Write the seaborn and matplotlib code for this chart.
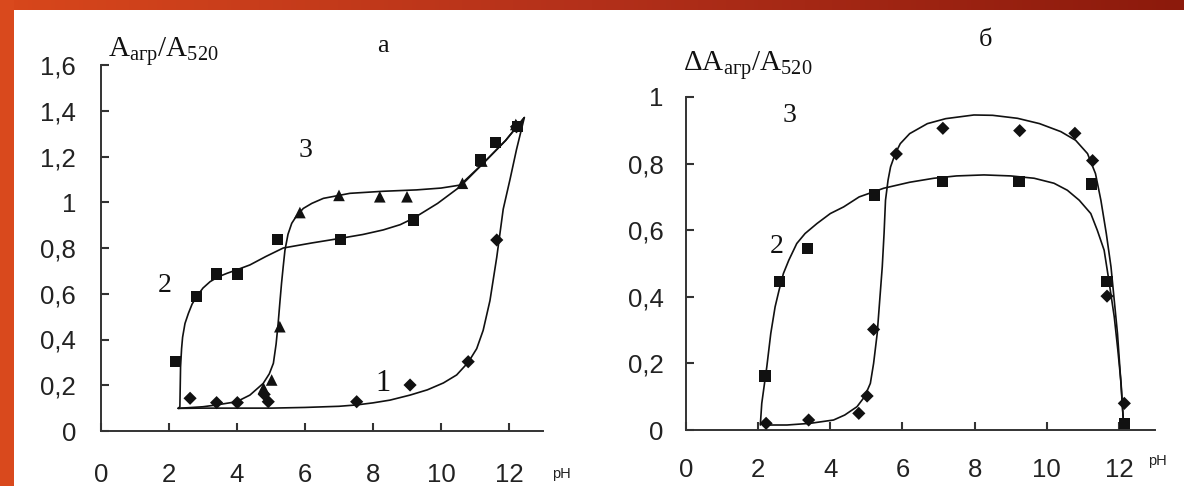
import numpy as np
import matplotlib.pyplot as plt
import seaborn as sns
from matplotlib.colors import LinearSegmentedColormap
from matplotlib.patches import Rectangle

sns.set_style("ticks")
plt.rcParams['font.family'] = ['Liberation Sans', 'DejaVu Sans']
plt.rcParams['xtick.direction'] = 'in'
plt.rcParams['ytick.direction'] = 'in'

# ---- panel a: measured points ----
a1_x = [2.62, 3.40, 4.01, 4.80, 4.92, 7.52, 9.09, 10.80, 11.64, 12.22]
a1_y = [0.143, 0.124, 0.124, 0.16, 0.128, 0.128, 0.201, 0.303, 0.835, 1.33]
a2_x = [2.18, 2.81, 3.40, 4.01, 5.20, 7.05, 9.19, 11.15, 11.60, 12.24]
a2_y = [0.303, 0.587, 0.686, 0.686, 0.838, 0.838, 0.922, 1.185, 1.26, 1.33]
a3_x = [4.78, 5.02, 5.26, 5.85, 7.00, 8.20, 9.00, 10.63, 11.20, 12.20]
a3_y = [0.187, 0.223, 0.456, 0.955, 1.03, 1.024, 1.024, 1.083, 1.18, 1.34]

# ---- panel a: fitted curves ----
a1_cx = [2.27, 3.0, 4.0, 5.0, 6.0, 7.0, 7.52, 8.0, 8.5, 9.09, 9.6, 10.07, 10.46, 10.8,
         11.05, 11.24, 11.44, 11.64, 11.83, 12.03, 12.22, 12.45]
a1_cy = [0.099, 0.10, 0.10, 0.10, 0.103, 0.108, 0.114, 0.123, 0.135, 0.157, 0.18, 0.21, 0.245, 0.30,
         0.36, 0.44, 0.57, 0.76, 0.97, 1.10, 1.23, 1.37]
a2_cx = [2.27, 2.32, 2.34, 2.37, 2.40, 2.47, 2.57, 2.68, 2.81, 3.0, 3.21, 3.45, 3.70, 4.0,
         4.38, 4.85, 5.36, 6.2, 7.03, 7.7, 8.30, 8.8, 9.19, 9.9, 10.56, 11.24, 11.9, 12.45]
a2_cy = [0.099, 0.106, 0.281, 0.36, 0.41, 0.47, 0.514, 0.555, 0.587, 0.625, 0.653, 0.674, 0.689, 0.705,
         0.726, 0.763, 0.80, 0.822, 0.842, 0.859, 0.879, 0.902, 0.93, 0.995, 1.068, 1.17, 1.27, 1.37]
a3_cx = [2.27, 3.0, 3.40, 3.99, 4.38, 4.77, 4.95, 5.07, 5.15, 5.21, 5.26, 5.31, 5.36, 5.41,
         5.5, 5.61, 5.75, 5.95, 6.2, 6.54, 7.32, 8.3, 9.28, 10.0, 10.56, 11.24, 11.9, 12.45]
a3_cy = [0.099, 0.106, 0.114, 0.128, 0.157, 0.208, 0.25, 0.296, 0.38, 0.47, 0.56, 0.646, 0.72, 0.79,
         0.86, 0.908, 0.94, 0.973, 0.995, 1.017, 1.039, 1.048, 1.054, 1.062, 1.075, 1.17, 1.27, 1.37]

# ---- panel b: measured points ----
b2_x = [2.19, 2.59, 3.37, 5.22, 7.12, 9.23, 11.24, 11.67, 12.15]
b2_y = [0.162, 0.445, 0.546, 0.706, 0.746, 0.746, 0.739, 0.445, 0.02]
b3_x = [2.22, 3.40, 4.79, 5.02, 5.20, 5.83, 7.12, 9.25, 10.78, 11.27, 11.67, 12.15]
b3_y = [0.02, 0.03, 0.05, 0.102, 0.302, 0.829, 0.906, 0.899, 0.891, 0.809, 0.402, 0.08]

# ---- panel b: fitted curves ----
b2_cx = [2.06, 2.10, 2.24, 2.35, 2.47, 2.58, 2.70, 2.85, 3.07, 3.3, 3.63, 4.0, 4.37, 4.8,
         5.48, 6.2, 6.87, 7.5, 8.26, 9.0, 9.65, 10.2, 10.57, 10.9, 11.22, 11.4, 11.59,
         11.72, 11.87, 11.97, 12.06, 12.13]
b2_cy = [0.015, 0.08, 0.19, 0.29, 0.37, 0.42, 0.47, 0.51, 0.56, 0.59, 0.62, 0.65, 0.67, 0.70,
         0.726, 0.744, 0.756, 0.763, 0.766, 0.763, 0.756, 0.741, 0.72, 0.69, 0.65, 0.60, 0.54,
         0.45, 0.34, 0.24, 0.14, 0.015]
b3_cx = [2.15, 2.8, 3.44, 4.09, 4.4, 4.74, 4.95, 5.11, 5.2, 5.30, 5.37, 5.44, 5.49, 5.53,
         5.6, 5.67, 5.8, 5.94, 6.2, 6.69, 7.2, 7.98, 8.5, 9.19, 9.8, 10.39, 10.8, 11.13,
         11.35, 11.50, 11.65, 11.78, 11.87, 11.96, 12.05, 12.13]
b3_cy = [0.015, 0.015, 0.02, 0.03, 0.045, 0.07, 0.10, 0.14, 0.2, 0.29, 0.39, 0.49, 0.59, 0.69,
         0.75, 0.79, 0.83, 0.86, 0.89, 0.92, 0.935, 0.946, 0.945, 0.936, 0.92, 0.896, 0.87, 0.83,
         0.77, 0.69, 0.59, 0.49, 0.39, 0.29, 0.15, 0.015]

x_ticks = [0, 2, 4, 6, 8, 10, 12]
a_yticks = [0, 0.2, 0.4, 0.6, 0.8, 1.0, 1.2, 1.4, 1.6]
a_ylabels = ["0", "0,2", "0,4", "0,6", "0,8", "1", "1,2", "1,4", "1,6"]
b_yticks = [0, 0.2, 0.4, 0.6, 0.8, 1.0]
b_ylabels = ["0", "0,2", "0,4", "0,6", "0,8", "1"]

W, H = 1184, 486
fig = plt.figure(figsize=(W / 100, H / 100), dpi=100)
fig.patch.set_facecolor("white")

# slide background strips
bg = fig.add_axes([0, 0, 1, 1], zorder=-5)
grad = np.linspace(0, 1, 256).reshape(1, -1)
cmap = LinearSegmentedColormap.from_list("strip", ["#d8471c", "#b3301a", "#8c1a0c"])
bg.imshow(grad, extent=(0, W, 10, 0), cmap=cmap, aspect="auto")
bg.add_patch(Rectangle((0, 0), 14, H, color="#d9491d", lw=0))
bg.set_xlim(0, W)
bg.set_ylim(H, 0)
bg.axis("off")

ink = "#111111"
serif = ["Liberation Serif", "DejaVu Serif"]


def px(x, y):
    return x / W, 1 - y / H


def style_axes(ax, ylim, yticks, ylabels, xpad, ypad):
    ax.set_xlim(0, 13)
    ax.set_ylim(*ylim)
    ax.set_xticks(x_ticks)
    ax.set_xticklabels([str(t) for t in x_ticks])
    ax.set_yticks(yticks)
    ax.set_yticklabels(ylabels)
    sns.despine(ax=ax)
    for s in ["left", "bottom"]:
        ax.spines[s].set_linewidth(1.4)
        ax.spines[s].set_color("#333333")
    ax.tick_params(axis="both", which="major", direction="in", length=6, width=1.5,
                   bottom=True, left=True, top=False, right=False,
                   color="#333333", labelcolor="#222222", labelsize=18.5)
    ax.tick_params(axis="x", pad=xpad)
    ax.tick_params(axis="y", pad=ypad)
    ax.set_xlabel("")
    ax.set_ylabel("")
    ax.set_facecolor("none")


def curve(ax, xs, ys):
    sns.lineplot(x=xs, y=ys, ax=ax, sort=False, estimator=None,
                 color=ink, linewidth=1.2, clip_on=False)


def points(ax, xs, ys, marker, size):
    sns.scatterplot(x=xs, y=ys, ax=ax, marker=marker, s=size, color=ink,
                    edgecolor="none", clip_on=False, zorder=3)


# ---- panel a ----
ax1 = fig.add_axes([101 / W, (H - 431) / H, 442 / W, 366 / H])
curve(ax1, a1_cx, a1_cy)
curve(ax1, a2_cx, a2_cy)
curve(ax1, a3_cx, a3_cy)
points(ax1, a1_x, a1_y, "D", 45)
points(ax1, a2_x, a2_y, "s", 65)
points(ax1, a3_x, a3_y, "^", 70)
style_axes(ax1, (0, 1.6), a_yticks, a_ylabels, 23, 18)

# ---- panel b ----
ax2 = fig.add_axes([686 / W, (H - 430) / H, 469 / W, 333 / H])
curve(ax2, b2_cx, b2_cy)
curve(ax2, b3_cx, b3_cy)
points(ax2, b2_x, b2_y, "s", 65)
points(ax2, b3_x, b3_y, "D", 45)
style_axes(ax2, (0, 1.0), b_yticks, b_ylabels, 20, 16)

# ---- texts ----
fig.text(*px(108, 57), r"$\mathregular{A_{агр}/A_{520}}$", family=serif,
         fontsize=21, color=ink, ha="left", va="baseline")
fig.text(*px(683, 71), r"$\mathregular{ΔA_{агр}/A_{520}}$", family=serif,
         fontsize=21, color=ink, ha="left", va="baseline")
fig.text(*px(383, 46), "а", family=serif, fontsize=19, color=ink, ha="center", va="center")
fig.text(*px(985, 40), "б", family=serif, fontsize=19, color=ink, ha="center", va="center")

fig.text(*px(305, 150), "3", family=serif, fontsize=20, color=ink, ha="center", va="center")
fig.text(*px(165, 286), "2", family=serif, fontsize=20, color=ink, ha="center", va="center")
fig.text(*px(383, 383), "1", family=serif, fontsize=22, color=ink, ha="center", va="center")
fig.text(*px(790, 115), "3", family=serif, fontsize=20, color=ink, ha="center", va="center")
fig.text(*px(777, 246), "2", family=serif, fontsize=20, color=ink, ha="center", va="center")

fig.text(*px(552, 474), "pH", fontsize=10.5, color="#222222", ha="left", va="center")
fig.text(*px(1148, 461), "pH", fontsize=10.5, color="#222222", ha="left", va="center")

fig.savefig("out.png", dpi=100)
